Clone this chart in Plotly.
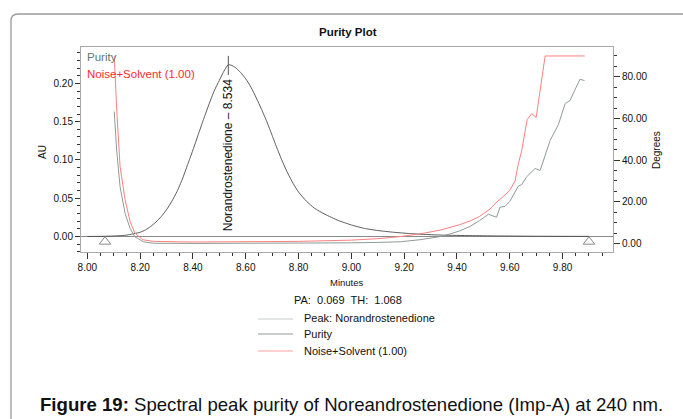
import plotly.graph_objects as go

# ---- data -------------------------------------------------------------
# chromatogram (AU) of the Norandrostenedione peak
peak_time = [8.00, 8.06, 8.10, 8.15, 8.20, 8.22, 8.24, 8.26, 8.28, 8.30, 8.32,
             8.34, 8.36, 8.38, 8.40, 8.42, 8.44, 8.46, 8.48, 8.50, 8.515,
             8.525, 8.534, 8.545, 8.56, 8.58, 8.60, 8.62, 8.64, 8.66, 8.68,
             8.70, 8.72, 8.74, 8.76, 8.78, 8.80, 8.83, 8.86, 8.90, 8.95, 9.00,
             9.05, 9.10, 9.16, 9.22, 9.28, 9.35, 9.45, 9.55, 9.70, 9.90]
peak_au = [0.0, 0.0002, 0.0006, 0.0018, 0.0055, 0.0085, 0.013, 0.019, 0.026,
           0.035, 0.046, 0.059, 0.075, 0.094, 0.113, 0.133, 0.153, 0.172,
           0.190, 0.204, 0.2145, 0.2205, 0.2245, 0.2238, 0.221, 0.2145, 0.206,
           0.195, 0.181, 0.166, 0.150, 0.132, 0.114, 0.097, 0.082, 0.069,
           0.058, 0.046, 0.037, 0.029, 0.021, 0.015, 0.0105, 0.0078, 0.0055,
           0.0038, 0.0026, 0.0017, 0.0011, 0.0007, 0.0003, 0.0001]

# purity angle (degrees)
purity_time = [8.102, 8.111, 8.124, 8.143, 8.162, 8.180, 8.212, 8.25, 8.40,
               8.60, 8.80, 9.00, 9.10, 9.185, 9.26, 9.336, 9.374, 9.41, 9.45,
               9.486, 9.519, 9.55, 9.563, 9.582, 9.60, 9.633, 9.645, 9.664,
               9.696, 9.715, 9.753, 9.772, 9.784, 9.81, 9.828, 9.847, 9.866,
               9.883]
purity_deg = [63.3, 44.8, 27.2, 14.4, 7.2, 3.2, 0.8, 0.1, 0.0, 0.0, 0.1, 0.3,
              0.5, 0.8, 1.8, 3.3, 4.6, 6.0, 8.2, 11.0, 14.0, 12.6, 17.4, 17.8,
              20.2, 27.6, 28.2, 32.0, 36.0, 35.0, 49.5, 54.5, 57.0, 67.2, 68.6,
              73.8, 78.8, 78.2]

# purity threshold, noise + solvent (degrees)
noise_time = [8.102, 8.111, 8.124, 8.143, 8.162, 8.18, 8.21, 8.25, 8.40, 8.60,
              8.80, 9.00, 9.10, 9.185, 9.26, 9.336, 9.41, 9.45, 9.486, 9.525,
              9.55, 9.575, 9.60, 9.62, 9.632, 9.645, 9.658, 9.666, 9.683, 9.70,
              9.734, 9.884]
noise_deg = [90, 65, 37, 21, 10.5, 5, 1.8, 1.0, 0.7, 0.8, 1.0, 1.6, 2.3, 3.3,
             4.6, 6.4, 9.0, 10.8, 13.0, 16.5, 19.8, 22.5, 25.5, 30.0, 38.0,
             44.5, 53.0, 59.5, 62.3, 60.5, 90, 90]

peak_rt = 8.534
peak_name = "Norandrostenedione"
marker_time = [8.067, 9.90]
marker_au = [-0.0068, -0.0068]

x_ticks = [8.0, 8.2, 8.4, 8.6, 8.8, 9.0, 9.2, 9.4, 9.6, 9.8]
au_ticks = [0.0, 0.05, 0.10, 0.15, 0.20]
deg_ticks = [0, 20, 40, 60, 80]

pa_value = 0.069
th_value = 1.068

# ---- layout geometry (pixels) ----------------------------------------
W, H = 683, 419
PL, PR, PT, PB = 81, 613, 47, 252


def xp(px):
    return (px - PL) / (PR - PL)


def yp(py):
    return (PB - py) / (PB - PT)


FONT = "Arial, Liberation Sans, sans-serif"
C_PEAK = "#4a4a4a"
C_PUR = "#8e9c96"
C_NOISE = "#ff8080"

fig = go.Figure()

fig.add_trace(go.Scatter(x=peak_time, y=peak_au, mode="lines",
                         line=dict(color=C_PEAK, width=0.9, shape="spline",
                                   smoothing=0.5),
                         yaxis="y", hoverinfo="skip"))
fig.add_trace(go.Scatter(x=purity_time, y=purity_deg, mode="lines",
                         line=dict(color=C_PUR, width=1), yaxis="y2",
                         hoverinfo="skip"))
fig.add_trace(go.Scatter(x=noise_time, y=noise_deg, mode="lines",
                         line=dict(color=C_NOISE, width=1), yaxis="y2",
                         hoverinfo="skip"))
fig.add_trace(go.Scatter(x=marker_time, y=marker_au, mode="markers",
                         marker=dict(symbol="triangle-up-open", size=10,
                                     color="#8a8a8a", line=dict(width=1)),
                         yaxis="y", hoverinfo="skip"))

# apex tick of the peak label
fig.add_shape(type="line", xref="x", yref="y", x0=peak_rt, x1=peak_rt,
              y0=0.236, y1=0.211, line=dict(color="#555", width=1))

# outer rounded frame (left + top edges)
frame = (f"M {xp(11)},{yp(422)} L {xp(11)},{yp(21)} "
         f"Q {xp(11)},{yp(14)} {xp(18)},{yp(14)} L {xp(690)},{yp(14)}")
fig.add_shape(type="path", xref="paper", yref="paper", path=frame,
              line=dict(color="#9a9a9a", width=1.3))

annotations = [
    dict(text="<b>Purity Plot</b>", x=xp(348), y=yp(32), font=dict(size=11.5)),
    dict(text="AU", x=xp(42), y=yp(152), textangle=-90, font=dict(size=10)),
    dict(text="Degrees", x=xp(656), y=yp(150), textangle=-90,
         font=dict(size=10)),
    dict(text="Minutes", x=xp(347), y=yp(282), font=dict(size=9.5)),
    dict(text=f"PA:  {pa_value:.3f}  TH:  {th_value:.3f}", x=xp(292),
         y=yp(300), xanchor="left", font=dict(size=11)),
    dict(text=f"Peak: {peak_name}", x=xp(302), y=yp(318), xanchor="left",
         font=dict(size=11)),
    dict(text="Purity", x=xp(302), y=yp(334), xanchor="left",
         font=dict(size=11)),
    dict(text="Noise+Solvent (1.00)", x=xp(302), y=yp(351), xanchor="left",
         font=dict(size=11)),
    dict(text="Purity", x=xp(85), y=yp(57), xanchor="left",
         font=dict(size=11.5, color="#5d7a6c")),
    dict(text="Noise+Solvent (1.00)", x=xp(85), y=yp(74), xanchor="left",
         font=dict(size=11.5, color="#ff2a2a")),
    dict(text="<b>Figure 19:</b> Spectral peak purity of Noreandrostenedione "
              "(Imp-A) at 240 nm.",
         x=xp(351), y=yp(404), font=dict(size=18.6, color="#111")),
]
for a in annotations:
    a.setdefault("xref", "paper")
    a.setdefault("yref", "paper")
    a.setdefault("showarrow", False)
    a.setdefault("xanchor", "center")
    a.setdefault("yanchor", "middle")
    f = a["font"]
    f.setdefault("family", FONT)
    f.setdefault("color", "#111")
    fig.add_annotation(**a)

# rotated peak label
fig.add_annotation(text=f"{peak_name} \u2013 {peak_rt:.3f}", x=peak_rt,
                   y=0.1065, xref="x", yref="y", textangle=-90,
                   showarrow=False,
                   font=dict(family=FONT, size=12, color="#111"))

# legend sample lines
for yy, col in [(319, "#d8dcdc"), (334, "#b4bcb8"), (351, "#ffc0c0")]:
    fig.add_shape(type="line", xref="paper", yref="paper", x0=xp(258),
                  x1=xp(293), y0=yp(yy), y1=yp(yy),
                  line=dict(color=col, width=1.3))

axis_common = dict(showgrid=False, ticks="outside", tickcolor="#333",
                   tickfont=dict(family=FONT, size=10, color="#111"),
                   linecolor="#a8a8a8", linewidth=1)

fig.update_layout(
    width=W, height=H,
    margin=dict(l=PL, r=W - PR, t=PT, b=H - PB),
    paper_bgcolor="white", plot_bgcolor="white",
    showlegend=False,
    xaxis=dict(range=[7.976, 9.991], tickvals=x_ticks, tickformat=".2f",
               ticklen=6, showline=True, mirror=True,
               minor=dict(dtick=0.05, tick0=8.0, ticks="outside", ticklen=3,
                          tickcolor="#333"),
               **axis_common),
    yaxis=dict(range=[-0.0203, 0.2476], tickvals=au_ticks, tickformat=".2f",
               ticklen=5, showline=True, mirror=True, zeroline=True,
               zerolinecolor="#8a8a8a", zerolinewidth=1,
               minor=dict(dtick=0.01, tick0=0, ticks="outside", ticklen=3,
                          tickcolor="#333"),
               **axis_common),
    yaxis2=dict(range=[-4.1, 94.3], tickvals=deg_ticks, tickformat=".2f",
                ticklen=6, overlaying="y", side="right", showline=True,
                zeroline=False,
                minor=dict(dtick=5, tick0=0, ticks="outside", ticklen=3,
                           tickcolor="#333"),
                **axis_common),
)

fig.write_html("out.html")
